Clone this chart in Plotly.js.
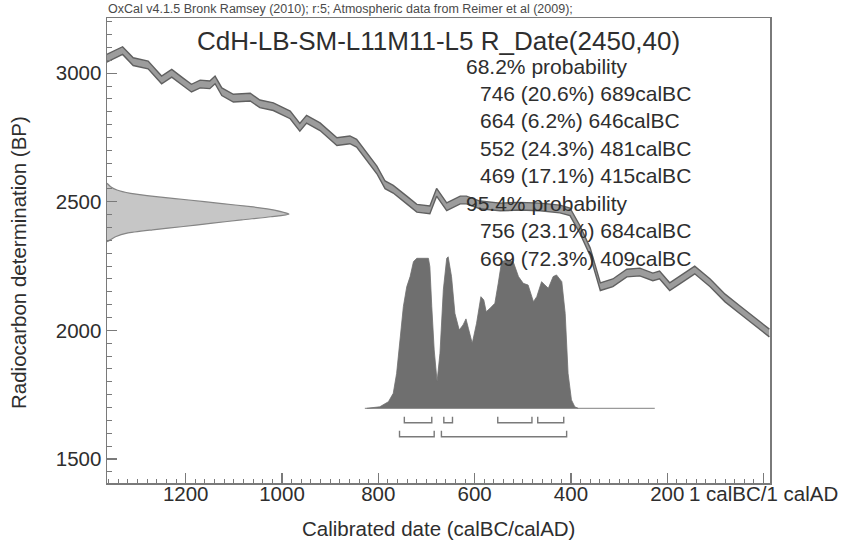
<!DOCTYPE html>
<html>
<head>
<meta charset="utf-8">
<script src="https://cdn.plot.ly/plotly-3.0.1.min.js"></script>
<style>html,body{margin:0;padding:0;background:#fff;}#chart{width:846px;height:549px;}</style>
</head>
<body>
<div id="chart"></div>
<script>
// ---- data ----
// calibration curve (IntCal09) centre line: calendar year (calBC) vs radiocarbon age (BP)
const curveBC = [1364,1331,1309,1278,1250,1229,1206,1188,1170,1150,1139,1125,1101,1066,1046,1018,983,963,949,921,886,859,845,824,803,786,769,741,720,693,679,658,630,617,589,547,506,464,423,402,381,360,339,313,284,257,230,216,195,174,143,111,80,49,28,12,0,-12];
const curveBP = [3058,3088,3045,3032,2974,3000,2967,2942,2958,2955,2974,2928,2903,2907,2881,2870,2838,2790,2821,2792,2734,2741,2728,2676,2624,2566,2549,2507,2475,2469,2537,2481,2507,2507,2488,2480,2483,2480,2472,2461,2391,2305,2170,2185,2223,2227,2208,2216,2170,2196,2235,2185,2126,2080,2049,2029,2010,1990];
const curveSigma = 15;

// radiocarbon measurement distribution (2450 +/- 40 BP), relative density
const measBP = [2572,2559,2546,2533,2520,2507,2494,2481,2468,2452,2442,2430,2417,2404,2391,2378,2365,2352,2345];
const measP  = [0,0.02,0.055,0.13,0.27,0.45,0.62,0.79,0.92,1,0.9,0.74,0.58,0.42,0.25,0.11,0.05,0.018,0];

// calibrated date distribution, relative density
const calBC = [824,797,779,769,762,755,748,741,734,727,720,696,693,689,684,678,672,665,658,655,648,641,632,624,618,613,605,596,587,581,576,568,558,551,544,533,520,509,499,489,478,471,461,454,447,437,430,419,412,406,399,392,385];
const calP  = [0,0.01,0.044,0.1,0.233,0.456,0.678,0.81,0.878,0.978,1,1,0.944,0.678,0.389,0.178,0.367,0.79,1,1.01,0.878,0.633,0.522,0.556,0.596,0.533,0.433,0.567,0.744,0.722,0.644,0.667,0.7,0.833,0.978,0.989,0.978,0.878,0.833,0.822,0.711,0.744,0.844,0.822,0.8,0.878,0.889,0.844,0.633,0.233,0.056,0.01,0];
const calBaselineBC = [828, 226];

// highest posterior density ranges
const range68 = [[746,689],[664,646],[552,481],[469,415]];
const range95 = [[756,684],[669,409]];

// texts
const headerText = "OxCal v4.1.5 Bronk Ramsey (2010); r:5; Atmospheric data from Reimer et al (2009);";
const titleText = "CdH-LB-SM-L11M11-L5 R_Date(2450,40)";
const probHeads = ["68.2% probability", "95.4% probability"];
const probLines68 = ["746 (20.6%) 689calBC","664 (6.2%) 646calBC","552 (24.3%) 481calBC","469 (17.1%) 415calBC"];
const probLines95 = ["756 (23.1%) 684calBC","669 (72.3%) 409calBC"];
const xTickVals = [1200,1000,800,600,400,200,0];
const xTickText = ["1200","1000","800","600","400","200","1 calBC/1 calAD"];
const yTickVals = [1500,2000,2500,3000];
const xTitle = "Calibrated date (calBC/calAD)";
const yTitle = "Radiocarbon determination (BP)";

// ---- build ----
const FONT = "Liberation Sans, Arial, sans-serif";
const L = 107, R = 76, T = 18, B = 66, W = 846, H = 549;
const pw = W - L - R, ph = H - T - B;
const px2x = p => (p - L) / pw;
const px2y = p => (H - B - p) / ph;

const upper = curveBP.map(v => v + curveSigma);
const lower = curveBP.map(v => v - curveSigma);

function bracketTrace(ranges, yBottom, yTop) {
  const xs = [], ys = [];
  ranges.forEach(r => {
    xs.push(r[0], r[0], r[1], r[1], null);
    ys.push(yTop, yBottom, yBottom, yTop, null);
  });
  return {x: xs, y: ys, xaxis: 'x', yaxis: 'y2', mode: 'lines', type: 'scatter',
          line: {color: '#7a7a7a', width: 1.4}, hoverinfo: 'skip', showlegend: false};
}

const traces = [
  // measurement distribution on the y axis
  {x: measP, y: measBP, xaxis: 'x2', yaxis: 'y', type: 'scatter', mode: 'lines', fill: 'tozerox',
   fillcolor: '#c6c6c6', line: {color: '#858585', width: 1.2, shape: 'spline', smoothing: 0.6}, showlegend: false},
  // calibrated distribution
  {x: calBaselineBC, y: [0, 0], xaxis: 'x', yaxis: 'y2', type: 'scatter', mode: 'lines',
   line: {color: '#9a9a9a', width: 1.3}, showlegend: false},
  {x: calBC, y: calP, xaxis: 'x', yaxis: 'y2', type: 'scatter', mode: 'lines', fill: 'tozeroy',
   fillcolor: '#6f6f6f', line: {color: '#6f6f6f', width: 0.8}, showlegend: false},
  bracketTrace(range68, -0.096, -0.056),
  bracketTrace(range95, -0.19, -0.15),
  // calibration curve band
  {x: curveBC, y: lower, xaxis: 'x', yaxis: 'y', type: 'scatter', mode: 'lines',
   line: {color: '#606060', width: 1.4}, showlegend: false},
  {x: curveBC, y: upper, xaxis: 'x', yaxis: 'y', type: 'scatter', mode: 'lines', fill: 'tonexty',
   fillcolor: '#9c9c9c', line: {color: '#606060', width: 1.4}, showlegend: false}
];

const annotations = [];
const txt = (text, x, y, size, anchor, extra) => Object.assign({
  text: text, xref: 'paper', yref: 'paper', x: px2x(x), y: px2y(y), showarrow: false,
  xanchor: anchor, yanchor: 'middle', font: {family: FONT, size: size, color: '#2e2e2e'}
}, extra || {});
annotations.push(txt(headerText, 106, 9, 12.5, 'left', {font: {family: FONT, size: 12.5, color: '#4a4a4a'}}));
annotations.push(txt(titleText, 438, 41, 26, 'center'));
annotations.push(txt(probHeads[0], 464, 66, 21, 'left'));
probLines68.forEach((s, i) => annotations.push(txt(s, 478, 93.5 + i * 27.4, 21, 'left')));
annotations.push(txt(probHeads[1], 464, 203.5, 21, 'left'));
probLines95.forEach((s, i) => annotations.push(txt(s, 478, 231 + i * 27.4, 21, 'left')));
annotations.push(txt(xTitle, 438, 528, 20.5, 'center'));
annotations.push(txt(yTitle, 18, 263, 20.5, 'center', {textangle: -90}));

const axisCommon = {
  showline: true, mirror: true, linecolor: '#7a7a7a', linewidth: 1.5,
  ticks: 'inside', tickcolor: '#7a7a7a', tickwidth: 1.3, ticklen: 10,
  showgrid: false, zeroline: false, tickangle: 0,
  tickfont: {family: FONT, size: 20.5, color: '#2e2e2e'}
};

const layout = {
  width: W, height: H,
  margin: {l: L, r: R, t: T, b: B, pad: 0},
  paper_bgcolor: '#ffffff', plot_bgcolor: '#ffffff',
  showlegend: false,
  xaxis: Object.assign({}, axisCommon, {
    range: [1363.4, -13.3], tickmode: 'array', tickvals: xTickVals, ticktext: xTickText,
    ticklabelstandoff: -8,
    minor: {tickmode: 'linear', tick0: 0, dtick: 20, ticks: 'inside', ticklen: 4, tickcolor: '#7a7a7a', tickwidth: 1}
  }),
  yaxis: Object.assign({}, axisCommon, {
    range: [1406.7, 3214.7], tickmode: 'array', tickvals: yTickVals,
    minor: {tickmode: 'linear', tick0: 0, dtick: 50, ticks: 'inside', ticklen: 5, tickcolor: '#7a7a7a', tickwidth: 1}
  }),
  xaxis2: {overlaying: 'x', anchor: 'y', range: [0, 3.643], visible: false, fixedrange: true},
  yaxis2: {overlaying: 'y', anchor: 'x', range: [-0.498, 2.602], visible: false, fixedrange: true},
  annotations: annotations
};

Plotly.newPlot('chart', traces, layout, {staticPlot: true, displayModeBar: false});
</script>
</body>
</html>
